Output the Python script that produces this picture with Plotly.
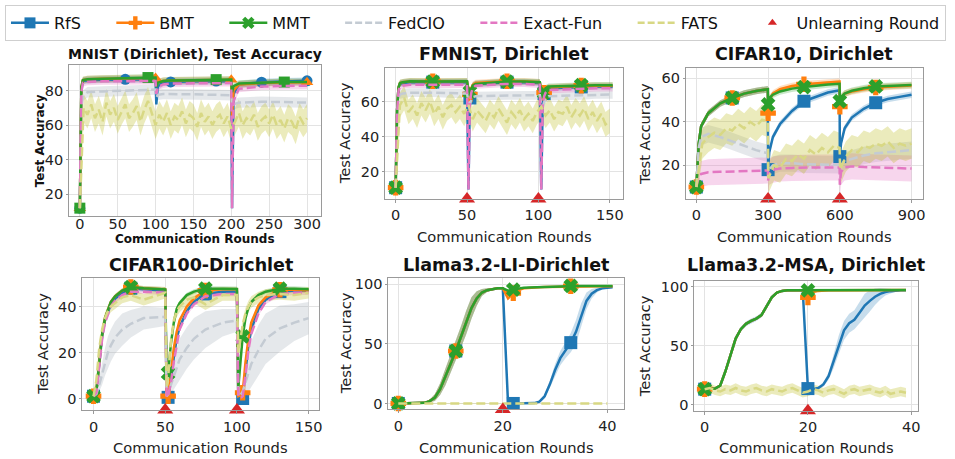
import plotly.graph_objects as go

W, H = 955, 459
FONT = "DejaVu Sans"

# ---------------- data ----------------
# MNIST (Dirichlet)
MN_X = [0, 2, 4, 10, 30, 60, 90, 100, 101, 103, 110, 120, 150, 180, 200, 201, 203, 210, 240, 270, 300]
MN_RFS = [12, 80, 85.5, 86, 86.3, 86.5, 86.5, 86.5, 72, 82.5, 84.5, 85, 85.3, 85.5, 85.5, 12, 78, 83.5, 84.8, 85.2, 85.6]
MN_BMT = [12, 82, 86, 86.5, 86.8, 87, 87.2, 87.3, 83.5, 85, 85.5, 85.8, 86, 86.2, 86.2, 65, 80, 83.5, 84.3, 84.6, 84.8]
MN_MMT = [12, 82, 86, 86.5, 86.8, 87, 87.5, 87.5, 82, 84.5, 85.5, 85.8, 86, 86.3, 86.3, 79, 82.5, 84, 84.6, 84.9, 85]
MN_EXA = [12, 79, 84.5, 85, 85.3, 85.5, 85.5, 85.5, 78, 82, 83.5, 84, 84.2, 84.3, 84.3, 12, 74, 81, 82.3, 82.6, 82.8]
MN_FED = [12, 70, 77, 79, 79.5, 80, 80.3, 80.5, 76, 77.5, 78, 78, 77.8, 77.5, 77.3, 70, 72, 73, 73.5, 73.3, 73]
MN_FATS_X = list(range(0, 301, 5))
MN_FATS = [12, 70, 66, 72, 64, 69, 62, 73, 66, 70, 63, 68, 72, 64, 67, 71, 62, 69, 74, 67,
           60, 66, 62, 67, 60, 65, 63, 68, 61, 66, 64, 59, 67, 62, 65, 60, 64, 66, 61, 65,
           58, 62, 67, 60, 64, 62, 66, 59, 63, 65, 61, 66, 60, 63, 58, 64, 62, 57, 65, 61, 64]
MN_SD_MAIN, MN_SD_FED, MN_SD_FATS = 2.0, 3.0, 8.0
MN_MARK_RFS = [0, 60, 120, 180, 240, 300]
MN_MARK_BMT = [0, 100, 200, 300]
MN_MARK_MMT = [0, 90, 180, 270]

# FMNIST, Dirichlet
FM_X = [0, 1, 2, 3, 5, 10, 26, 40, 50, 51, 52, 53, 54, 56, 78, 90, 101, 102, 103, 104, 105, 107, 130, 140, 152]
FM_RFS = [11, 55, 68, 70, 70.5, 71, 71, 71, 71, 10, 62, 67, 69, 70, 71, 71, 70.5, 10, 60, 64.5, 66, 67.5, 68.3, 68.5, 68.5]
FM_BMT = [11, 55, 68, 70.5, 71, 71.5, 71.5, 71.5, 71.5, 66, 64, 67, 69.5, 70.5, 71.5, 71.5, 71, 65, 63, 65, 67, 68, 69, 69, 69]
FM_MMT = [11, 55, 68, 70.5, 71, 71.5, 71.3, 71.5, 71.5, 67, 65.5, 66.5, 69, 70, 71.3, 71.3, 71, 66, 64, 65, 67.5, 68.5, 69.3, 69.3, 69.3]
FM_EXA = [11, 52, 66, 68.5, 69, 69.5, 69.5, 69.5, 69.5, 10, 60, 65, 67.5, 69, 70, 70, 69.5, 10, 58, 63, 65, 66.5, 67.3, 67.5, 67.5]
FM_FED = [11, 50, 62, 64, 64.5, 65, 65, 64.5, 64.5, 60, 58, 61, 62.5, 63, 63.5, 63.5, 63.5, 58, 57, 60, 62, 63, 63.5, 64, 64]
FM_FATS_X = list(range(0, 151, 3))
FM_FATS = [11, 58, 62, 54, 57, 52, 59, 55, 60, 53, 57, 51, 56, 58, 54, 57, 53, 58, 50, 55,
           52, 49, 54, 51, 56, 52, 48, 54, 51, 55, 50, 53, 49, 54, 57, 52, 55, 50, 54, 53,
           57, 51, 55, 52, 56, 50, 54, 49, 53, 47, 49]
FM_SD_MAIN, FM_SD_FED, FM_SD_FATS = 1.8, 2.5, 7.0
FM_MARK = [0, 26, 52, 78, 104, 130]
FM_UNL = [50, 100]

# CIFAR10, Dirichlet
C10_X = [0, 10, 20, 50, 100, 150, 200, 250, 299, 300, 305, 320, 350, 400, 450, 500, 550, 599,
         600, 605, 620, 650, 700, 750, 800, 850, 900]
C10_RFS = [10, 30, 38, 44, 48.5, 51, 53, 54.2, 55, 18, 26, 33, 39, 45, 49.5, 51.5, 53.5, 54.5,
           24, 30, 37, 42, 46, 48.8, 50.5, 51.5, 52.5]
C10_BMT = [10, 30, 38, 44, 48.5, 51, 53, 54.2, 55, 44, 50, 53, 55, 56.5, 57.3, 57.8, 58.2, 58.5,
           47, 51, 53, 54, 55, 55.8, 56.2, 56.5, 56.7]
C10_MMT = [10, 30, 38, 44, 48.5, 51, 53, 54.2, 55, 48, 51, 52.5, 54, 55.3, 56, 56.7, 57.2, 57.5,
           49.5, 51.5, 53, 54.3, 55.5, 56.3, 56.6, 56.8, 57]
C10_EXA = [10, 15, 16, 16.8, 17, 17.2, 17.3, 17.5, 17.6, 13, 17, 18, 18.5, 18.8, 19, 19, 19, 19,
           11, 17, 19, 19.5, 19.2, 19, 18.8, 18.7, 18.5]
C10_FED = [10, 28, 33, 34.5, 33, 31, 29, 27, 25.5, 17, 18, 20, 21, 21, 20.5, 20.5, 20.3, 20.2,
           18, 20, 22, 23, 24.5, 25.5, 26, 26.5, 27]
C10_FATS_X = [0, 25, 50, 75, 100, 125, 150, 175, 200, 225, 250, 275, 299, 301, 325, 350, 375, 400,
              425, 450, 475, 500, 525, 550, 575, 599, 601, 625, 650, 675, 700, 725, 750, 775, 800,
              825, 850, 875, 900]
C10_FATS = [10, 30, 33, 35, 34, 37, 36, 39, 37, 40, 38, 41, 40, 14, 20, 19, 23, 22,
            25, 23, 27, 25, 28, 26, 29, 28, 18, 24, 27, 26, 29, 28, 30, 29, 31,
            28, 30, 29, 30]
C10_SD_MAIN, C10_SD_EXA, C10_SD_FED, C10_SD_FATS = 1.5, 6.0, 4.0, 7.0
C10_MARK = [0, 150, 300, 450, 600, 750]
C10_UNL = [300, 600]

# CIFAR100-Dirichlet
C100_X = [0, 2, 4, 6, 8, 10, 12, 15, 20, 26, 35, 50, 51, 52, 54, 56, 58, 60, 65, 70, 78, 90, 100,
          101, 103, 104, 106, 108, 110, 115, 120, 130, 140, 150]
C100_RFS = [1, 3, 15, 27, 34, 38, 41, 43.5, 46, 48, 47.5, 47, 0.5, 0.5, 8, 18, 26, 31, 38, 42, 45.5, 46.5, 46.5,
            0, 0, 0, 12, 23, 30, 39, 43, 46.5, 47, 47]
C100_BMT = [1, 3, 16, 28, 35, 39, 42, 44.5, 47, 48.5, 48, 47.5, 1, 1, 12, 22, 29, 34, 40, 43.5, 47, 47.5, 47.5,
            1, 1.5, 2.5, 16, 26, 33, 40.5, 44, 47.3, 47.3, 47]
C100_MMT = [1, 3, 16, 28, 35, 39, 42, 44.5, 47, 48.5, 48, 47.5, 11, 11, 24, 33, 39, 41.5, 45, 46.5, 47.8, 47.8, 47.7,
            5, 20, 27, 35, 39.5, 42, 45, 46.5, 47.8, 47.8, 47.5]
C100_EXA = [1, 2.5, 14, 26, 33, 37, 40, 42.5, 45, 46.5, 46.5, 46, 0.5, 1, 7, 16, 24, 30, 37, 41, 44.5, 45.5, 45.5,
            0.5, 0.5, 1, 10, 21, 28, 37, 42, 45.5, 46, 46]
C100_FED = [1, 2, 6, 11, 16, 20, 23, 26.5, 30, 32.5, 35, 35.5, 1, 2, 6, 10, 14, 17, 22, 26, 30, 33, 34,
            1, 2, 3, 7, 11, 15, 21, 26, 30.5, 33, 35]
C100_FED_SD = [0.5, 1, 3, 5, 6, 7, 7, 7, 7, 6, 5, 4, 1, 2, 4, 6, 8, 9, 9, 9, 8, 6, 5,
               1, 3, 4, 6, 8, 10, 11, 11, 10, 8, 7]
C100_FATS = [1, 8, 22, 30, 35, 38, 40, 41.5, 44, 45, 43, 46, 5, 9, 25, 34, 38, 40, 43, 44, 41, 45, 45,
             20, 28, 32, 37, 40, 42, 44, 45, 45.5, 45, 46]
C100_SD_MAIN, C100_SD_FATS = 1.0, 2.5
C100_MARK = [0, 26, 52, 78, 104, 130]
C100_UNL = [50, 100]

# Llama3.2-LI-Dirichlet
LI_X = list(range(42))
LI_MMT = [0, 0, 0, 0, 0, 0.5, 2, 5, 12, 22, 33, 44, 56, 68, 80, 88, 93, 95, 96, 96.5, 96.5,
          94.5, 95.5, 96.5, 97, 97.3, 97.5, 97.7, 97.8, 98, 98, 98.2, 98.3, 98.5, 98.5, 98.5, 98.5,
          98.5, 98.5, 98.5, 98.5, 98.5]
LI_MMT_SD = [0, 0, 0, 0, 0, 0.5, 1, 3, 5, 7, 8, 8, 9, 10, 9, 6, 3, 1.5, 1, 0.5, 0.5,
             0.5, 0.5, 0.5, 0.5, 0.5, 0.5, 0.5, 0.5, 0.5, 0.5, 0.5, 0.5, 0.5, 0.5, 0.5, 0.5,
             0.5, 0.5, 0.5, 0.5, 0.5]
LI_BMT = [0, 0, 0, 0, 0, 0.5, 2, 5, 12, 22, 33, 44, 56, 68, 80, 88, 93, 95, 96, 96.5, 96.5,
          88, 92.5, 95, 96.5, 97, 97.3, 97.5, 97.7, 97.8, 98, 98, 98.2, 98.3, 98.3, 98.3, 98.3,
          98.3, 98.3, 98.3, 98.3, 98.3]
LI_RFS = [0, 0, 0, 0, 0, 0.5, 2, 5, 12, 22, 33, 44, 56, 68, 80, 88, 93, 95, 96, 96.5, 96.5,
          0, 0, 0, 0, 0, 0.3, 1.5, 6, 16, 28, 38, 45, 51, 60, 74, 86, 92, 95, 96.5, 97, 97.5]
LI_RFS_SD = [0, 0, 0, 0, 0, 0.5, 1, 3, 5, 7, 8, 8, 9, 10, 9, 6, 3, 1.5, 1, 0.5, 0.5,
             0, 0, 0, 0, 0, 0.3, 1, 2, 3, 5, 6, 7, 8, 10, 10, 7, 4, 2, 1, 0.5, 0.5]
LI_FATS_X = list(range(41))
LI_FATS = [0] * 41
LI_MARK = [0, 11, 22, 33]
LI_UNL = [20]

# Llama3.2-MSA, Dirichlet
MSA_X = list(range(40))
MSA_MMT = [13, 13, 13.5, 16, 28, 42, 56, 64, 68.5, 71, 73, 76, 84, 91, 95, 96.5, 97, 97, 97, 97,
           97, 97, 97, 97, 97, 97, 97, 97, 97, 97, 97, 97, 97, 97, 97, 97, 97, 97, 97, 97.2]
MSA_BMT = [13, 13, 13.5, 16, 28, 42, 56, 64, 68.5, 71, 73, 76, 84, 91, 95, 96.5, 97, 97, 97, 97,
           91, 95.5, 96.5, 97, 97, 97, 97, 97, 97, 97, 97, 97, 97, 97, 97, 97, 97, 97, 97, 97.2]
MSA_RFS = [13, 13, 13.5, 16, 28, 42, 56, 64, 68.5, 71, 73, 76, 84, 91, 95, 96.5, 97, 97, 97, 97,
           13.5, 13, 14, 17, 24, 37, 51, 63, 69, 72, 78, 84, 88, 91.5, 94, 95.5, 96.3, 96.8, 97, 97]
MSA_RFS_SD = [0.5, 0.5, 0.5, 1, 1.5, 2, 2, 2, 2, 2, 2, 2, 2, 1.5, 1, 0.5, 0.5, 0.5, 0.5, 0.5,
              0.5, 0.5, 1, 2, 3, 6, 8, 8, 8, 8, 9, 10, 9, 7, 5, 3, 2, 1, 0.5, 0.5]
MSA_FATS = [13, 14, 12, 11, 13, 12, 14, 12, 11, 13, 14, 12, 11, 13, 12, 11, 13, 14, 12, 10,
            11, 13, 12, 10, 12, 13, 11, 9, 12, 13, 11, 12, 13, 11, 10, 12, 9, 10, 11, 10]
MSA_SD_MAIN, MSA_SD_FATS = 1.0, 4.0
MSA_MARK = [0, 20]
MSA_UNL = [20]

NAMES = ["RfS", "BMT", "MMT", "FedCIO", "Exact-Fun", "FATS", "Unlearning Round"]

# ---------------- styles ----------------
COL = {"RfS": "#1f77b4", "BMT": "#ff7f0e", "MMT": "#2ca02c", "FedCIO": "#c4cbd3",
       "Exact-Fun": "#e377c2", "FATS": "#d8d884", "UNL": "#d62728"}
BAND = {"RfS": "rgba(31,119,180,0.25)", "BMT": "rgba(255,127,14,0.25)", "MMT": "rgba(44,160,44,0.25)",
        "FedCIO": "rgba(160,172,184,0.28)", "Exact-Fun": "rgba(227,119,194,0.3)",
        "FATS": "rgba(188,189,34,0.3)"}
SYM = {"RfS": "square", "BMT": "cross", "MMT": "x"}
MN_SYM = {"RfS": "circle", "BMT": "triangle-up", "MMT": "square"}
LW = 2.5
DASH = "9px,4px"

# panel geometry (pixels) and axis ranges
PANELS = [
    dict(l=69.3, r=322, t=63.3, b=216, xr=[-14.3, 318], yr=[7.4, 94.9],
         xt=[0, 50, 100, 150, 200, 250, 300], yt=[20, 40, 60, 80]),
    dict(l=386.7, r=625.7, t=67, b=198.7, xr=[-7.4, 159.3], yr=[4.6, 78.8],
         xt=[0, 50, 100, 150], yt=[20, 40, 60]),
    dict(l=688.7, r=926.7, t=67, b=198.7, xr=[-44, 947], yr=[4.5, 64.6],
         xt=[0, 300, 600, 900], yt=[20, 40, 60]),
    dict(l=82.7, r=320, t=278.3, b=411.7, xr=[-7.8, 157], yr=[-5.05, 52.5],
         xt=[0, 50, 100, 150], yt=[0, 20, 40]),
    dict(l=390, r=626.7, t=278.3, b=411, xr=[-1.9, 43.2], yr=[-5, 105.3],
         xt=[0, 20, 40], yt=[0, 50, 100]),
    dict(l=697.3, r=921.7, t=281.7, b=412.3, xr=[-2.0, 41.3], yr=[-5.3, 104.7],
         xt=[0, 20, 40], yt=[0, 50, 100]),
]
TITLES = ["MNIST (Dirichlet), Test Accuracy", "FMNIST, Dirichlet", "CIFAR10, Dirichlet",
          "CIFAR100-Dirichlet", "Llama3.2-LI-Dirichlet", "Llama3.2-MSA, Dirichlet"]

fig = go.Figure()


def ax_names(i):
    s = "" if i == 0 else str(i + 1)
    return "x" + s, "y" + s


def add_band(i, x, y, sd, key):
    xa, ya = ax_names(i)
    sds = sd if isinstance(sd, list) else [sd] * len(y)
    up = [a + b for a, b in zip(y, sds)]
    lo = [a - b for a, b in zip(y, sds)]
    fig.add_trace(go.Scatter(x=list(x) + list(x)[::-1], y=up + lo[::-1], fill="toself",
                             fillcolor=BAND[key], line=dict(width=0), mode="lines",
                             hoverinfo="skip", showlegend=False, xaxis=xa, yaxis=ya))


def add_line(i, x, y, key, dashed=False):
    xa, ya = ax_names(i)
    fig.add_trace(go.Scatter(x=x, y=y, mode="lines", showlegend=False,
                             line=dict(color=COL[key], width=LW, dash=DASH if dashed else "solid"),
                             xaxis=xa, yaxis=ya))


def add_marks(i, x, y, key, marks, sym, size):
    xa, ya = ax_names(i)
    mx = [a for a in x if a in marks]
    my = [b for a, b in zip(x, y) if a in marks]
    fig.add_trace(go.Scatter(x=mx, y=my, mode="markers", showlegend=False, cliponaxis=False,
                             marker=dict(color=COL[key], symbol=sym, size=size, line=dict(width=0)),
                             xaxis=xa, yaxis=ya))


def add_unl(i, xs):
    xa, ya = ax_names(i)
    yb = PANELS[i]["yr"][0]
    fig.add_trace(go.Scatter(x=xs, y=[yb] * len(xs), mode="markers", showlegend=False,
                             cliponaxis=False,
                             marker=dict(color=COL["UNL"], symbol="triangle-up", size=14, line=dict(width=0)),
                             xaxis=xa, yaxis=ya))


def panel(i, x, main, fed=None, exa=None, fats=None, marks=None, sym=SYM, msize=13, unl=None):
    for key in ["RfS", "BMT", "MMT"]:
        if key in main:
            add_band(i, x, main[key][0], main[key][1], key)
    if fed is not None:
        add_band(i, fed[0], fed[1], fed[2], "FedCIO")
    if exa is not None:
        add_band(i, exa[0], exa[1], exa[2], "Exact-Fun")
    if fats is not None:
        add_band(i, fats[0], fats[1], fats[2], "FATS")
    for key in ["RfS", "BMT", "MMT"]:
        if key in main:
            add_line(i, x, main[key][0], key)
            mk = marks[key] if isinstance(marks, dict) else marks
            add_marks(i, x, main[key][0], key, mk, sym[key], msize)
    if fed is not None:
        add_line(i, fed[0], fed[1], "FedCIO", True)
    if exa is not None:
        add_line(i, exa[0], exa[1], "Exact-Fun", True)
    if fats is not None:
        add_line(i, fats[0], fats[1], "FATS", True)
    if unl:
        add_unl(i, unl)


panel(0, MN_X, {"RfS": (MN_RFS, MN_SD_MAIN), "BMT": (MN_BMT, MN_SD_MAIN), "MMT": (MN_MMT, MN_SD_MAIN)},
      fed=(MN_X, MN_FED, MN_SD_FED), exa=(MN_X, MN_EXA, MN_SD_MAIN), fats=(MN_FATS_X, MN_FATS, MN_SD_FATS),
      marks={"RfS": MN_MARK_RFS, "BMT": MN_MARK_BMT, "MMT": MN_MARK_MMT}, sym=MN_SYM, msize=11)
panel(1, FM_X, {"RfS": (FM_RFS, FM_SD_MAIN), "BMT": (FM_BMT, FM_SD_MAIN), "MMT": (FM_MMT, FM_SD_MAIN)},
      fed=(FM_X, FM_FED, FM_SD_FED), exa=(FM_X, FM_EXA, FM_SD_MAIN), fats=(FM_FATS_X, FM_FATS, FM_SD_FATS),
      marks=FM_MARK, unl=FM_UNL)
panel(2, C10_X, {"RfS": (C10_RFS, C10_SD_MAIN), "BMT": (C10_BMT, C10_SD_MAIN), "MMT": (C10_MMT, C10_SD_MAIN)},
      fed=(C10_X, C10_FED, C10_SD_FED), exa=(C10_X, C10_EXA, C10_SD_EXA), fats=(C10_FATS_X, C10_FATS, C10_SD_FATS),
      marks=C10_MARK, unl=C10_UNL)
panel(3, C100_X, {"RfS": (C100_RFS, C100_SD_MAIN), "BMT": (C100_BMT, C100_SD_MAIN), "MMT": (C100_MMT, C100_SD_MAIN)},
      fed=(C100_X, C100_FED, C100_FED_SD), exa=(C100_X, C100_EXA, C100_SD_MAIN),
      fats=(C100_X, C100_FATS, C100_SD_FATS), marks=C100_MARK, unl=C100_UNL)
panel(4, LI_X, {"RfS": (LI_RFS, LI_RFS_SD), "BMT": (LI_BMT, LI_MMT_SD), "MMT": (LI_MMT, LI_MMT_SD)},
      fats=(LI_FATS_X, LI_FATS, 0.3), marks=LI_MARK, unl=LI_UNL)
panel(5, MSA_X, {"RfS": (MSA_RFS, MSA_RFS_SD), "BMT": (MSA_BMT, MSA_SD_MAIN), "MMT": (MSA_MMT, MSA_SD_MAIN)},
      fats=(MSA_X, MSA_FATS, MSA_SD_FATS), marks=MSA_MARK, unl=MSA_UNL)

# legend-only entries
PAD = "\u00a0" * 5
for key in NAMES[:3]:
    fig.add_trace(go.Scatter(x=[None], y=[None], mode="lines+markers", name=key + PAD,
                             line=dict(color=COL[key], width=LW),
                             marker=dict(color=COL[key], symbol=SYM[key], size=11, line=dict(width=0))))
for key in NAMES[3:6]:
    fig.add_trace(go.Scatter(x=[None], y=[None], mode="lines", name=key + PAD,
                             line=dict(color=COL[key], width=LW, dash="7px,3px")))
fig.add_trace(go.Scatter(x=[None], y=[None], mode="markers", name=NAMES[6],
                         marker=dict(color=COL["UNL"], symbol="triangle-up", size=8, line=dict(width=0))))

# axes
layout = {}
annotations = []
for i, p in enumerate(PANELS):
    s = "" if i == 0 else str(i + 1)
    xdom = [p["l"] / W, p["r"] / W]
    ydom = [1 - p["b"] / H, 1 - p["t"] / H]
    common = dict(showline=True, mirror=True, linecolor="#9a9a9a", linewidth=1,
                  showgrid=True, gridcolor="#e3e3e3", gridwidth=1, zeroline=False,
                  tickcolor="#9a9a9a", tickfont=dict(family=FONT, size=14.5, color="#222"))
    if i == 0:
        layout["xaxis" + s] = dict(domain=xdom, range=p["xr"], tickvals=p["xt"], anchor="y" + s,
                                   ticks="", ticklabelstandoff=-6, **common)
    else:
        layout["xaxis" + s] = dict(domain=xdom, range=p["xr"], tickvals=p["xt"], anchor="y" + s,
                                   ticks="outside", ticklen=3, ticklabelstandoff=0, **common)
    layout["yaxis" + s] = dict(domain=ydom, range=p["yr"], tickvals=p["yt"], anchor="x" + s,
                               ticks="outside", ticklen=2, **common)
    cx = (p["l"] + p["r"]) / 2
    cy = (p["t"] + p["b"]) / 2
    row1 = i < 3
    if i == 0:
        annotations.append(dict(text="<b>" + TITLES[i] + "</b>", x=cx / W, y=1 - 52 / H,
                                font=dict(family=FONT, size=14, color="#111")))
        annotations.append(dict(text="<b>Communication Rounds</b>", x=cx / W, y=1 - 239.5 / H,
                                font=dict(family=FONT, size=12, color="#111")))
        annotations.append(dict(text="<b>Test Accuracy</b>", x=41 / W, y=1 - cy / H, textangle=-90,
                                font=dict(family=FONT, size=12, color="#111")))
    else:
        ty = 52 if row1 else 265
        xy = 237 if row1 else 449
        yx = {1: 346, 2: 647, 3: 43, 4: 347, 5: 648}[i]
        annotations.append(dict(text="<b>" + TITLES[i] + "</b>", x=cx / W, y=1 - ty / H,
                                font=dict(family=FONT, size=17.5, color="#111")))
        annotations.append(dict(text="Communication Rounds", x=cx / W, y=1 - xy / H,
                                font=dict(family=FONT, size=14.7, color="#222")))
        annotations.append(dict(text="Test Accuracy", x=yx / W, y=1 - cy / H, textangle=-90,
                                font=dict(family=FONT, size=14.7, color="#222")))
for a in annotations:
    a.update(xref="paper", yref="paper", showarrow=False, xanchor="center", yanchor="middle")

fig.update_layout(
    width=W, height=H, margin=dict(l=0, r=0, t=0, b=0),
    paper_bgcolor="white", plot_bgcolor="white",
    font=dict(family=FONT, size=14.5, color="#222"),
    annotations=annotations,
    legend=dict(orientation="h", x=5 / W, y=1 - 3 / H, xanchor="left", yanchor="top",
                bordercolor="#cfcfcf", borderwidth=1, font=dict(family=FONT, size=16, color="#111"),
                itemwidth=38, tracegroupgap=0, bgcolor="white"),
    **layout,
)

fig.write_html("out.html", config={"displayModeBar": False},
               post_script="document.body.style.margin='0';")
